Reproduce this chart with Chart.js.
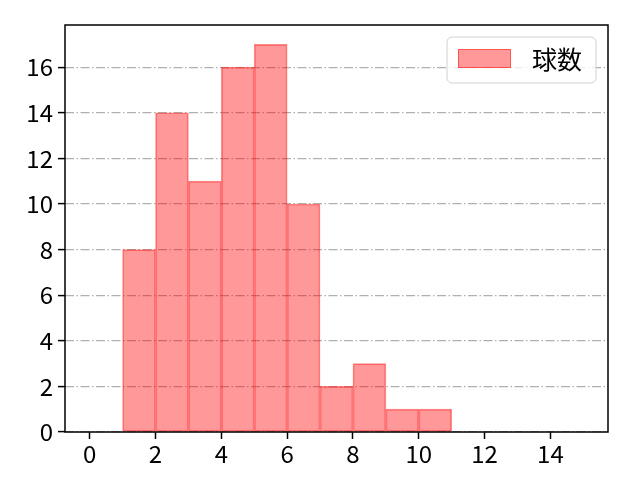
<!DOCTYPE html>
<html>
<head>
<meta charset="utf-8">
<script src="https://cdn.jsdelivr.net/npm/chart.js@4"></script>
<style>
  html, body { margin: 0; padding: 0; background: #fff; }
  #wrap { width: 640px; height: 480px; }
</style>
</head>
<body>
<div id="wrap"><canvas id="myChart" width="640" height="480"></canvas></div>
<script>
// histogram bins (left edges) and counts
const binLeft = [1, 2, 3, 4, 5, 6, 7, 8, 9, 10];
const counts = [8, 14, 11, 16, 17, 10, 2, 3, 1, 1];
const seriesLabel = '球数';
const xTicks = [0, 2, 4, 6, 8, 10, 12, 14];
const yTicks = [0, 2, 4, 6, 8, 10, 12, 14, 16];

const FONT = "'Noto Sans CJK JP', 'DejaVu Sans', sans-serif";
const fill = 'rgba(255, 0, 0, 0.4)';
const edge = 'rgba(255, 0, 0, 0.45)';

const points = binLeft.map((b, i) => ({ x: b + 0.5, y: counts[i] }));

// frame round the plot area + legend box in the top right corner
const framePlugin = {
    id: 'frame',
    afterDraw(chart) {
        const { ctx, chartArea: a } = chart;
        ctx.save();
        ctx.strokeStyle = '#000';
        ctx.lineWidth = 1.5;
        ctx.strokeRect(a.left, a.top, a.right - a.left, a.bottom - a.top);

        // legend
        const bx = 447, by = 37, bw = 149, bh = 46, r = 5;
        ctx.beginPath();
        ctx.moveTo(bx + r, by);
        ctx.arcTo(bx + bw, by, bx + bw, by + bh, r);
        ctx.arcTo(bx + bw, by + bh, bx, by + bh, r);
        ctx.arcTo(bx, by + bh, bx, by, r);
        ctx.arcTo(bx, by, bx + bw, by, r);
        ctx.closePath();
        ctx.fillStyle = 'rgba(255,255,255,0.8)';
        ctx.fill();
        ctx.strokeStyle = '#d0d0d0';
        ctx.lineWidth = 1;
        ctx.stroke();

        ctx.fillStyle = fill;
        ctx.fillRect(458, 49, 53, 19);
        ctx.strokeStyle = edge;
        ctx.strokeRect(458.5, 49.5, 52, 18);

        ctx.fillStyle = '#000';
        ctx.font = '25px ' + FONT;
        ctx.textBaseline = 'middle';
        ctx.fillText(seriesLabel, 532, 59);
        ctx.restore();
    }
};

const ctx = document.getElementById('myChart').getContext('2d');
const myChart = new Chart(ctx, {
    type: 'bar',
    data: {
        datasets: [{
            label: seriesLabel,
            data: points,
            backgroundColor: fill,
            borderColor: edge,
            borderWidth: 1,
            borderSkipped: false,
            barPercentage: 1,
            categoryPercentage: 1
        }]
    },
    options: {
        responsive: false,
        animation: false,
        layout: { padding: { top: 25, right: 32, left: 0, bottom: 0 } },
        plugins: { legend: { display: false }, tooltip: { enabled: false } },
        scales: {
            x: {
                type: 'linear',
                offset: false,
                min: -0.75,
                max: 15.75,
                afterBuildTicks: s => { s.ticks = xTicks.map(v => ({ value: v })); },
                afterFit: s => { s.height = 48; },
                grid: { offset: false, color: 'transparent', tickColor: '#000', tickLength: 7, tickWidth: 1.5 },
                border: { display: false },
                ticks: { color: '#000', font: { family: FONT, size: 24 }, padding: 0, maxRotation: 0 }
            },
            y: {
                min: 0,
                max: 17.85,
                afterBuildTicks: s => { s.ticks = yTicks.map(v => ({ value: v })); },
                afterFit: s => { s.width = 65; },
                grid: { color: '#b0b0b0', lineWidth: 1.2, tickColor: '#000', tickLength: 7, tickWidth: 1.5, tickBorderDash: [] },
                border: { display: false, dash: [9, 2.5, 1.5, 2.5] },
                ticks: { color: '#000', font: { family: FONT, size: 24 }, padding: 5 }
            }
        }
    },
    plugins: [framePlugin]
});
</script>
</body>
</html>
